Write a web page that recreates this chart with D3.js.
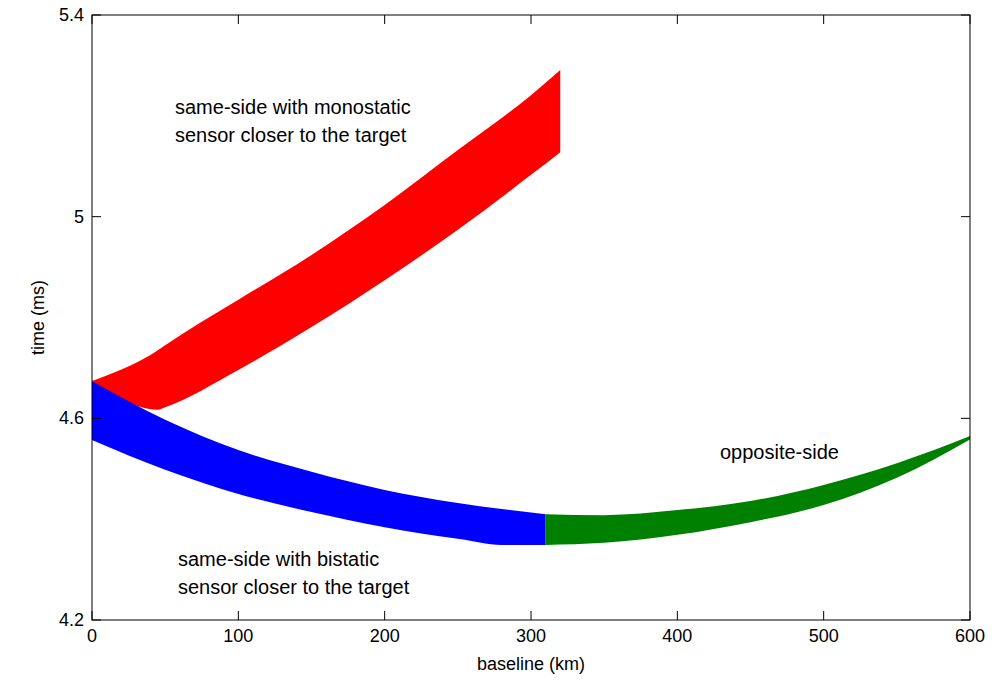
<!DOCTYPE html><html><head><meta charset="utf-8"><script src="https://cdn.jsdelivr.net/npm/d3@7"></script>
<style>body{margin:0;background:#fff}text{font-family:"Liberation Sans",Arial,sans-serif}</style></head><body>
<svg id="c" width="1000" height="686"></svg>
<script>
const xTicks=[0,100,200,300,400,500,600];
const yTicks=[4.2,4.6,5,5.4];
const redX=[0,45,50,100,150,200,250,300,320];
const redUpper=[4.674,4.735,4.745,4.835,4.924,5.023,5.132,5.241,5.291];
const redLower=[4.674,4.617,4.622,4.696,4.781,4.874,4.974,5.083,5.128];
const blueX=[0,50,100,150,200,250,280,310];
const blueUpper=[4.674,4.597,4.537,4.494,4.458,4.432,4.420,4.410];
const blueLower=[4.557,4.498,4.450,4.414,4.384,4.361,4.349,4.349];
const greenX=[310,350,400,450,500,550,600];
const greenUpper=[4.410,4.408,4.418,4.436,4.468,4.511,4.565];
const greenLower=[4.349,4.353,4.369,4.394,4.428,4.482,4.558];

const svg=d3.select("#c");
const L=92,R=970,T=15,B=620;
const x=d3.scaleLinear().domain([0,600]).range([L,R]);
const y=d3.scaleLinear().domain([4.2,5.4]).range([B,T]);
const area=d3.area().x(d=>x(d[0])).y0(d=>y(d[1])).y1(d=>y(d[2])).curve(d3.curveMonotoneX);
function band(xs,u,l,c){svg.append("path").datum(xs.map((v,i)=>[v,l[i],u[i]])).attr("d",area).attr("fill",c);}
band(redX,redUpper,redLower,"#ff0000");
band(blueX,blueUpper,blueLower,"#0000ff");
band(greenX,greenUpper,greenLower,"#008000");
svg.append("rect").attr("x",L).attr("y",T).attr("width",R-L).attr("height",B-T).attr("fill","none").attr("stroke","#000");
xTicks.forEach(t=>{svg.append("line").attr("x1",x(t)).attr("x2",x(t)).attr("y1",B).attr("y2",B-9).attr("stroke","#000");
svg.append("line").attr("x1",x(t)).attr("x2",x(t)).attr("y1",T).attr("y2",T+9).attr("stroke","#000");
svg.append("text").attr("x",x(t)).attr("y",B+22).attr("text-anchor","middle").attr("font-size",18).text(t);});
yTicks.forEach(t=>{svg.append("line").attr("x1",L).attr("x2",L+9).attr("y1",y(t)).attr("y2",y(t)).attr("stroke","#000");
svg.append("line").attr("x1",R).attr("x2",R-9).attr("y1",y(t)).attr("y2",y(t)).attr("stroke","#000");
svg.append("text").attr("x",L-8).attr("y",y(t)+6).attr("text-anchor","end").attr("font-size",18).text(t);});
svg.append("text").attr("x",(L+R)/2).attr("y",670).attr("text-anchor","middle").attr("font-size",18).text("baseline (km)");
svg.append("text").attr("transform",`translate(44,${(T+B)/2}) rotate(-90)`).attr("text-anchor","middle").attr("font-size",18).text("time (ms)");
function lab(px,py,lines){lines.forEach((s,i)=>svg.append("text").attr("x",px).attr("y",py+i*28).attr("font-size",20).text(s));}
lab(175,114,["same-side with monostatic","sensor closer to the target"]);
lab(178,566,["same-side with bistatic","sensor closer to the target"]);
lab(720,459,["opposite-side"]);
</script></body></html>
